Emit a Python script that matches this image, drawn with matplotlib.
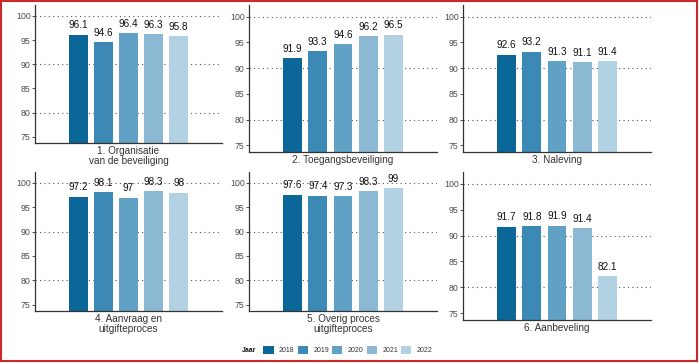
import matplotlib
matplotlib.use('Agg')
import matplotlib.pyplot as plt
from matplotlib.patches import Patch, Rectangle

plt.rcParams['font.family'] = ['Liberation Sans', 'DejaVu Sans']

# Data.
years = ['2018', '2019', '2020', '2021', '2022']
colors = ['#0b6797', '#3d89b6', '#62a1c6', '#8bb9d4', '#b2d2e3']

titles = ['1. Organisatie\nvan de beveiliging',
          '2. Toegangsbeveiliging',
          '3. Naleving',
          '4. Aanvraag en\nuitgifteproces',
          '5. Overig proces\nuitgifteproces',
          '6. Aanbeveling']

organisatie = [96.1, 94.6, 96.4, 96.3, 95.8]
toegang = [91.9, 93.3, 94.6, 96.2, 96.5]
naleving = [92.6, 93.2, 91.3, 91.1, 91.4]
aanvraag = [97.2, 98.1, 97, 98.3, 98]
overig = [97.6, 97.4, 97.3, 98.3, 99]
aanbeveling = [91.7, 91.8, 91.9, 91.4, 82.1]
series = [organisatie, toegang, naleving, aanvraag, overig, aanbeveling]

y_ticks = [75, 80, 85, 90, 95, 100]
y_grid = [80, 90, 100]

W, H = 699, 364
fig = plt.figure(figsize=(W / 100, H / 100), dpi=100)

# Panel boxes in pixels: left, right, top, bottom.
boxes = [(35, 222, 5, 143), (249, 437, 5, 152), (463, 651, 5, 152),
         (35, 222, 172, 311), (249, 437, 172, 311), (463, 651, 172, 320)]

for (x0, x1, y0, y1), title, vals in zip(boxes, titles, series):
    ax = fig.add_axes([x0 / W, 1 - y1 / H, (x1 - x0) / W, (y1 - y0) / H])
    pos = range(len(years))
    for g in y_grid:
        ax.axhline(g, color='#555555', lw=0.8, ls=(0, (1, 3)), zorder=0)
    ax.bar(pos, vals, width=0.74, color=colors, zorder=2)
    for p, v in zip(pos, vals):
        ax.annotate(f'{v:g}', (p, v), xytext=(0, 4.5), textcoords='offset points',
                    ha='center', va='baseline', fontsize=7.2, color='#111111')
    ax.set_xlim(-1.73, 5.73)
    ax.set_ylim(73.7, 102.25)
    ax.set_yticks(y_ticks)
    ax.set_xticks([])
    ax.tick_params(axis='y', length=2, width=0.6, color='#333333', pad=1,
                   labelsize=6.3, labelcolor='#4d4d4d')
    for side in ['top', 'right']:
        ax.spines[side].set_visible(False)
    for side in ['left', 'bottom']:
        ax.spines[side].set_color('#333333')
        ax.spines[side].set_linewidth(0.9)
    ax.set_xlabel(title, fontsize=7.2, color='#333333', labelpad=2.5, linespacing=1.0)

# Legend
fig.text(242 / W, 1 - 350 / H, 'Jaar', fontsize=5, fontweight='bold',
         ha='left', va='center', color='#111111')
handles = [Patch(facecolor=c, edgecolor='none') for c in colors]
fig.legend(handles, years, loc='center left', bbox_to_anchor=(260 / W, 1 - 350 / H),
           ncol=5, frameon=False, fontsize=5, borderpad=0, handlelength=1.45,
           handleheight=1.3, handletextpad=0.8, columnspacing=0.45,
           labelcolor='#333333')

# Red frame around the picture
fig.add_artist(Rectangle((1 / W, 3 / H), 696 / W, 360 / H, transform=fig.transFigure,
                         fill=False, edgecolor='#cc2a2a', lw=1.5))

fig.savefig('out.png', dpi=100, facecolor='white')
